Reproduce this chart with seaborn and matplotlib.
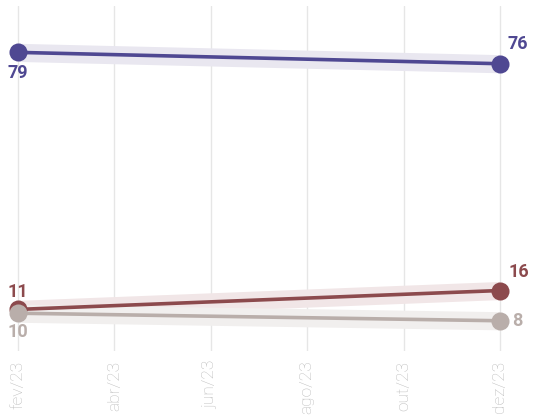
import numpy as np
import pandas as pd
import matplotlib.pyplot as plt
import seaborn as sns

# Data
months = ["fev/23", "abr/23", "jun/23", "ago/23", "out/23", "dez/23"]
month_pos = [0, 2, 4, 6, 8, 10]
point_pos = [0, 10]
serie_a = [79, 76]
serie_b = [11, 16]
serie_c = [10, 8]
series_names = ["A", "B", "C"]
colors = ["#4f4892", "#8c4a4d", "#b9aeaa"]
band_colors = ["#e9e7f0", "#f1e6e7", "#f1efee"]
band = 2.4

df = pd.DataFrame({
    "mes": point_pos * 3,
    "valor": serie_a + serie_b + serie_c,
    "serie": [s for s in series_names for _ in point_pos],
})

sns.set_style("white")
plt.rcParams["font.family"] = ["Roboto", "DejaVu Sans"]

fig = plt.figure(figsize=(5.33, 4.19), dpi=100)
ax = fig.add_axes([0, 68 / 419, 1, 345 / 419])

# confidence-like bands
for name, bc in zip(series_names, band_colors):
    sub = df[df["serie"] == name]
    ax.fill_between(sub["mes"], sub["valor"] - band, sub["valor"] + band,
                    color=bc, lw=0, zorder=1)

sns.lineplot(data=df, x="mes", y="valor", hue="serie", palette=colors,
             linewidth=2.6, marker="o", markersize=13, markeredgewidth=0,
             legend=False, ax=ax, zorder=3)
for line in ax.lines:
    line.set_clip_on(False)

ax.set_xlim(-18 / 48.2, 10 + 33 / 48.2)
ax.set_ylim(0, 345 / 3.78)
ax.set_xticks(month_pos)
ax.set_xticklabels(months, rotation=90, color="#bcbcbc", fontsize=12.5,
                   fontweight="light")
ax.set_yticks([])
ax.tick_params(axis="x", length=0, pad=7)
ax.grid(axis="x", color="#e6e6e6", lw=1)
ax.set_xlabel("")
ax.set_ylabel("")
for s in ax.spines.values():
    s.set_visible(False)

def label(x, y, txt, color, dx, dy, ha="center"):
    ax.annotate(txt, (x, y), xytext=(dx * 0.72, dy * 0.72),
                textcoords="offset points", ha=ha, va="center",
                color=color, fontsize=13, fontweight="bold",
                annotation_clip=False)

label(0, serie_a[0], str(serie_a[0]), colors[0], 0, -21)
label(10, serie_a[1], str(serie_a[1]), colors[0], 8, 20, ha="left")
label(0, serie_b[0], str(serie_b[0]), colors[1], 0, 17)
label(10, serie_b[1], str(serie_b[1]), colors[1], 8, 19, ha="left")
label(0, serie_c[0], str(serie_c[0]), colors[2], 0, -19)
label(10, serie_c[1], str(serie_c[1]), colors[2], 12, 0, ha="left")

fig.savefig("out.png", dpi=100)
